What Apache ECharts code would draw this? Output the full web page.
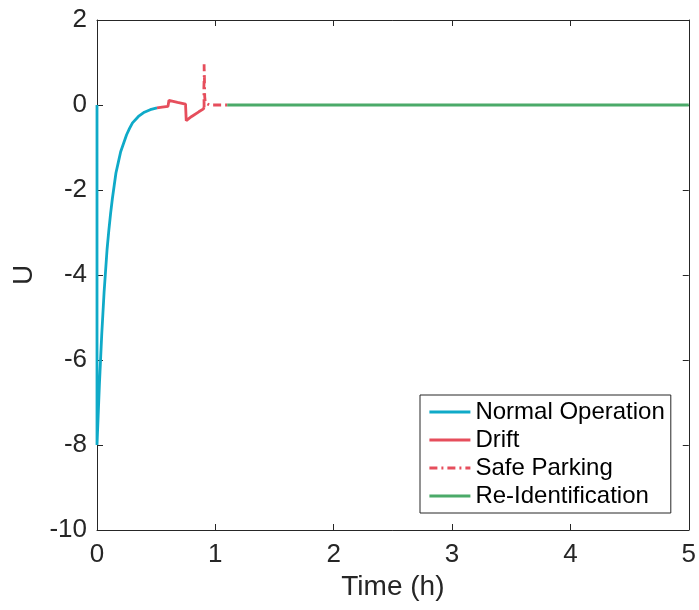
<!DOCTYPE html>
<html>
<head>
<meta charset="utf-8">
<script src="https://cdn.jsdelivr.net/npm/echarts@6/dist/echarts.min.js"></script>
<style>html,body{margin:0;padding:0;background:#fff;}#chart{width:699px;height:610px;}</style>
</head>
<body>
<div id="chart"></div>
<script>
var xTicks = [0, 1, 2, 3, 4, 5];
var yTicks = [-10, -8, -6, -4, -2, 0, 2];
var seriesNames = ['Normal Operation', 'Drift', 'Safe Parking', 'Re-Identification'];
var normalT = [0, 0, 0.01, 0.02, 0.03, 0.04, 0.05, 0.06, 0.07, 0.085, 0.1, 0.115, 0.13, 0.145, 0.16, 0.18, 0.2, 0.225, 0.25, 0.275, 0.3, 0.35, 0.4, 0.45, 0.507];
var normalU = [0, -8, -7.3, -6.6, -6.0, -5.4, -4.9, -4.4, -4.0, -3.4, -2.95, -2.55, -2.2, -1.9, -1.6, -1.35, -1.1, -0.9, -0.7, -0.55, -0.42, -0.27, -0.17, -0.11, -0.07];
var driftT = [0.507, 0.55, 0.6, 0.608, 0.68, 0.748, 0.754, 0.8, 0.86, 0.9, 0.905];
var driftU = [-0.07, -0.05, -0.03, 0.11, 0.06, 0.02, -0.37, -0.27, -0.16, -0.09, -0.05];
var parkT = [0.905, 0.903, 0.906, 0.905, 0.908, 0.91, 0.915, 0.93, 0.95, 1.1];
var parkU = [-0.05, 0.4, 0.7, 0.96, 0.6, 0.2, 0.05, 0.02, 0, 0];
var reidT = [1.1, 5];
var reidU = [0, 0];

function pairs(t, u) { return t.map(function (v, i) { return [v, u[i]]; }); }

var colors = ['#0FAAC8', '#E64E5C', '#E64E5C', '#4BAA69'];
var FONT = 'Liberation Sans, Arial, Helvetica, sans-serif';
var axisColor = '#262626';

var chart = echarts.init(document.getElementById('chart'), null, {renderer: 'canvas'});
var baseX = {
  type: 'value', min: xTicks[0], max: xTicks[xTicks.length - 1], interval: 1,
  axisLine: {show: true, onZero: false, lineStyle: {color: axisColor, width: 1}},
  axisTick: {show: true, inside: true, length: 6, lineStyle: {color: axisColor}},
  splitLine: {show: false}
};
var baseY = {
  type: 'value', min: yTicks[0], max: yTicks[yTicks.length - 1], interval: 2,
  axisLine: {show: true, onZero: false, lineStyle: {color: axisColor, width: 1}},
  axisTick: {show: true, inside: true, length: 6, lineStyle: {color: axisColor}},
  splitLine: {show: false}
};
function mk(i, extra) {
  return Object.assign({
    name: seriesNames[i], type: 'line', symbol: 'none', showSymbol: false,
    lineStyle: {color: colors[i], width: 2.8}, itemStyle: {color: colors[i]}, z: 3
  }, extra);
}
chart.setOption({
  animation: false,
  backgroundColor: '#fff',
  grid: {left: 97, right: 6, top: 20, bottom: 80, containLabel: false},
  xAxis: [
    Object.assign({}, baseX, {
      position: 'bottom',
      name: 'Time (h)', nameLocation: 'middle', nameGap: 38,
      nameTextStyle: {fontFamily: FONT, fontSize: 28, color: axisColor},
      axisLabel: {show: true, fontFamily: FONT, fontSize: 26, color: axisColor, margin: 12}
    }),
    Object.assign({}, baseX, {position: 'top', axisLabel: {show: false}})
  ],
  yAxis: [
    Object.assign({}, baseY, {
      position: 'left',
      name: 'U', nameLocation: 'middle', nameGap: 50,
      nameTextStyle: {fontFamily: FONT, fontSize: 28, color: axisColor},
      axisLabel: {show: true, fontFamily: FONT, fontSize: 26, color: axisColor, margin: 10}
    }),
    Object.assign({}, baseY, {position: 'right', axisLabel: {show: false}})
  ],
  legend: {
    show: true, orient: 'vertical', left: 420, top: 395,
    padding: [5, 6, 5, 8], itemGap: 4, itemWidth: 41, itemHeight: 14,
    backgroundColor: '#fff', borderColor: axisColor, borderWidth: 1, borderRadius: 0,
    itemStyle: {opacity: 0},
    lineStyle: {width: 2.8},
    textStyle: {fontFamily: FONT, fontSize: 24, color: '#000', lineHeight: 24},
    data: seriesNames
  },
  series: [
    mk(0, {data: pairs(normalT, normalU)}),
    mk(1, {data: pairs(driftT, driftU)}),
    mk(2, {data: pairs(parkT, parkU), lineStyle: {color: colors[2], width: 2.8, type: [8, 4, 2, 4]}}),
    mk(3, {data: pairs(reidT, reidU)})
  ]
});
</script>
</body>
</html>
